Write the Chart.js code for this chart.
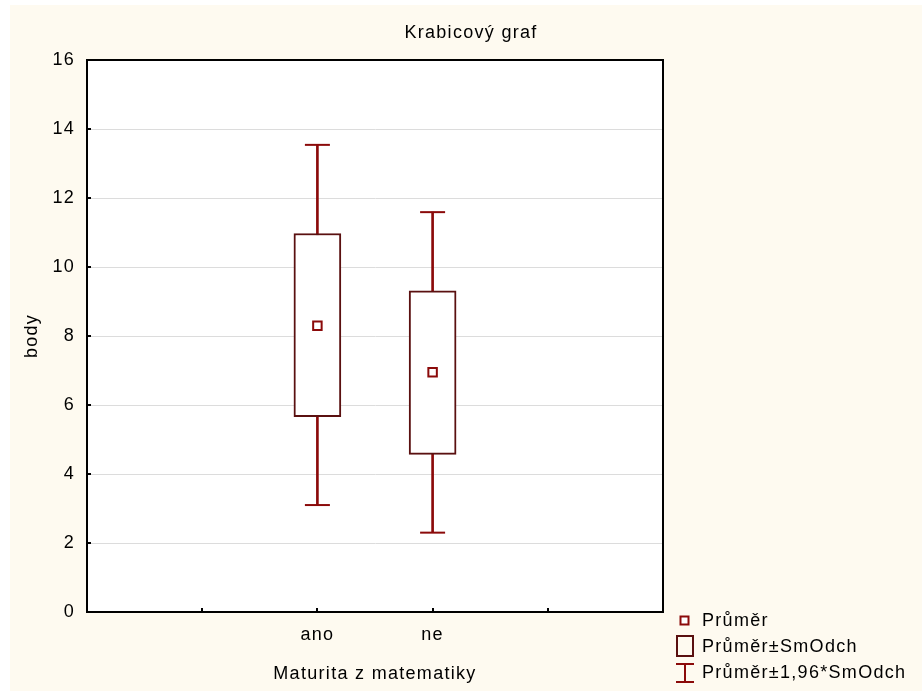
<!DOCTYPE html>
<html>
<head>
<meta charset="utf-8">
<script src="https://cdn.jsdelivr.net/npm/chart.js@4"></script>
<style>
html, body { margin: 0; padding: 0; background: #fff; }
#wrap { position: relative; width: 922px; height: 691px; }
</style>
</head>
<body>
<div id="wrap"><canvas id="chart" width="922" height="691"></canvas></div>
<script>
// groups on the x axis and their slot positions
const groups = ['ano', 'ne'];
const groupPos = [2, 3];

// mean, mean ± SD, mean ± 1.96*SD
const means = [8.30, 6.95];
const sdLow = [5.66, 4.57];
const sdHigh = [10.97, 9.31];
const ciLow = [3.10, 2.30];
const ciHigh = [13.54, 11.59];

const FONT = '"Liberation Sans", Arial, Helvetica, sans-serif';
const FONT_SIZE = 18;
const SPACING = '1.3px';
const BOX_COLOR = '#5a1010';
const RED = '#8b0a0a';
const CREAM = '#fefaf0';

const tickLabel = {};
groupPos.forEach((p, i) => { tickLabel[p] = groups[i]; });

const decor = {
	id: 'decor',
	beforeDraw(chart) {
		const { ctx, chartArea: a, width, height } = chart;
		ctx.save();
		ctx.fillStyle = '#fff';
		ctx.fillRect(0, 0, width, height);
		ctx.fillStyle = CREAM;
		ctx.fillRect(10, 5, width - 10, height - 5);
		ctx.fillStyle = '#fff';
		ctx.fillRect(a.left, a.top, a.right - a.left, a.bottom - a.top);
		ctx.restore();
		ctx.letterSpacing = SPACING;
	},
	afterDraw(chart) {
		const { ctx, chartArea: a, scales } = chart;
		ctx.save();
		ctx.letterSpacing = SPACING;

		// frame
		ctx.strokeStyle = '#000';
		ctx.lineWidth = 2;
		ctx.strokeRect(a.left, a.top, a.right - a.left, a.bottom - a.top);

		// inward tick marks
		ctx.beginPath();
		for (let v = 2; v < 16; v += 2) {
			const y = Math.round(scales.y.getPixelForValue(v));
			ctx.moveTo(a.left - 1, y);
			ctx.lineTo(a.left + 4, y);
		}
		for (let v = 1; v < 5; v++) {
			const x = Math.round(scales.x.getPixelForValue(v));
			ctx.moveTo(x, a.bottom + 1);
			ctx.lineTo(x, a.bottom - 4);
		}
		ctx.stroke();

		// titles
		ctx.fillStyle = '#000';
		ctx.font = FONT_SIZE + 'px ' + FONT;
		ctx.textBaseline = 'middle';
		ctx.textAlign = 'center';
		ctx.fillText('Krabicový graf', 471, 33);
		ctx.fillText('Maturita z matematiky', 375, 674);
		ctx.save();
		ctx.translate(32, 336);
		ctx.rotate(-Math.PI / 2);
		ctx.fillText('body', 0, 0);
		ctx.restore();

		// legend
		ctx.textAlign = 'left';
		ctx.fillText('Průměr', 702, 621);
		ctx.fillText('Průměr±SmOdch', 702, 647);
		ctx.fillText('Průměr±1,96*SmOdch', 702, 673);

		ctx.lineWidth = 2;
		ctx.strokeStyle = RED;
		ctx.fillStyle = '#fff';
		ctx.fillRect(680.5, 616.5, 8, 8);
		ctx.strokeRect(680.5, 616.5, 8, 8);

		ctx.strokeStyle = BOX_COLOR;
		ctx.strokeRect(677, 636, 16, 20);

		ctx.strokeStyle = RED;
		ctx.beginPath();
		ctx.moveTo(676, 664); ctx.lineTo(694, 664);
		ctx.moveTo(676, 682); ctx.lineTo(694, 682);
		ctx.moveTo(685, 664); ctx.lineTo(685, 682);
		ctx.stroke();
		ctx.restore();
	}
};

const whiskerData = groupPos.map((x, i) => ({ x, y: [ciLow[i], ciHigh[i]] }));
const boxData = groupPos.map((x, i) => ({ x, y: [sdLow[i], sdHigh[i]] }));
const capData = groupPos.flatMap((x, i) => [{ x, y: ciLow[i] }, { x, y: ciHigh[i] }]);
const meanData = groupPos.map((x, i) => ({ x, y: means[i] }));

new Chart(document.getElementById('chart'), {
	type: 'bar',
	data: {
		datasets: [
			{
				label: 'whisker',
				data: whiskerData,
				backgroundColor: RED,
				borderWidth: 0,
				barThickness: 2,
				grouped: false,
				order: 3
			}, {
				label: 'box',
				data: boxData,
				backgroundColor: '#fff',
				borderColor: BOX_COLOR,
				borderWidth: 2,
				borderSkipped: false,
				barThickness: 47,
				grouped: false,
				order: 2
			}, {
				type: 'scatter',
				label: 'caps',
				data: capData,
				pointStyle: 'line',
				pointRadius: 12.5,
				pointHoverRadius: 12.5,
				borderColor: RED,
				pointBorderColor: RED,
				pointBorderWidth: 2,
				order: 1
			}, {
				type: 'scatter',
				label: 'mean',
				data: meanData,
				pointStyle: 'rect',
				pointRadius: 6,
				pointHoverRadius: 6,
				pointBackgroundColor: '#fff',
				pointBorderColor: RED,
				pointBorderWidth: 2,
				order: 0
			}
		]
	},
	options: {
		responsive: false,
		animation: false,
		devicePixelRatio: 1,
		layout: { padding: { left: 0, right: 259, top: 60, bottom: 0 } },
		plugins: {
			legend: { display: false },
			tooltip: { enabled: false },
			title: { display: false }
		},
		scales: {
			x: {
				type: 'linear',
				min: 0,
				max: 5,
				offset: false,
				afterFit: (scale) => { scale.height = 79; },
				grid: { display: false, drawTicks: false, offset: false },
				border: { display: true, color: '#000', width: 2 },
				ticks: {
					stepSize: 1,
					padding: 12,
					color: '#000',
					font: { family: FONT, size: FONT_SIZE },
					maxRotation: 0,
					autoSkip: false,
					callback: (v) => tickLabel[v] || ''
				}
			},
			y: {
				min: 0,
				max: 16,
				afterFit: (scale) => { scale.width = 87; },
				grid: { color: '#dcdcdc', lineWidth: 1, drawTicks: false },
				border: { display: true, color: '#000', width: 2 },
				ticks: {
					stepSize: 2,
					padding: 12,
					color: '#000',
					font: { family: FONT, size: FONT_SIZE }
				}
			}
		}
	},
	plugins: [decor]
});
</script>
</body>
</html>
